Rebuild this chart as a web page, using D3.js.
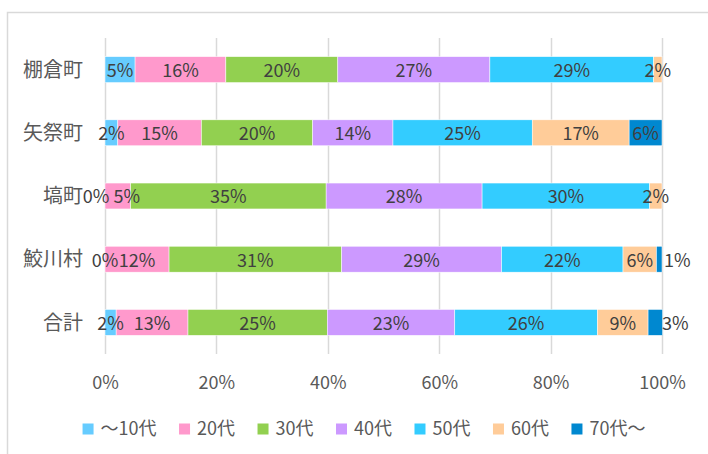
<!DOCTYPE html>
<html>
<head>
<meta charset="utf-8">
<script src="https://cdnjs.cloudflare.com/ajax/libs/d3/7.8.5/d3.min.js"></script>
<style>
  body { margin: 0; background: #fff; }
  #chart { width: 708px; height: 454px; }
</style>
</head>
<body>
<div id="chart"></div>
<script>
//Stacked 100% bar chart d3 v7

var categories = ["棚倉町", "矢祭町", "塙町", "鮫川村", "合計"];
var seriesNames = ["～10代", "20代", "30代", "40代", "50代", "60代", "70代～"];
var palette = ["#66ccff", "#ff99cc", "#92d050", "#cc99ff", "#33ccff", "#ffcc99", "#0088d0"];
var tickLabels = [0, 0.2, 0.4, 0.6, 0.8, 1];

//shares in % per age group, one array per series (null = no value)
var age10 = [5.4, 2.3, 0, 0, 2.0];
var age20 = [16.3, 15.0, 4.6, 11.5, 12.9];
var age30 = [20.1, 20.0, 35.1, 31.0, 25.0];
var age40 = [27.3, 14.4, 28.0, 28.7, 22.9];
var age50 = [29.4, 25.0, 30.1, 21.8, 25.6];
var age60 = [1.5, 17.4, 2.2, 6.0, 9.1];
var age70 = [null, 5.9, null, 1.0, 2.6];

var seriesValues = [age10, age20, age30, age40, age50, age60, age70];

var width = 708;
var height = 454;
var margin = {top: 38, right: 46, bottom: 100, left: 105};
var widthG = width - margin.left - margin.right;
var heightG = height - margin.top - margin.bottom;

var font = "'Noto Sans CJK JP', 'Noto Sans', sans-serif";

//label nudges for labels that were moved by hand in the original
var labelShift = {
  "塙町|～10代": -9,
  "塙町|20代": 9,
  "鮫川村|70代～": 18,
  "合計|70代～": 20
};

var svg = d3.select("#chart").append("svg")
  .attr("width", width)
  .attr("height", height)
  .style("font-family", font);

//chart border (only the top and left edges fall inside the picture)
svg.append("rect")
  .attr("x", 7.5)
  .attr("y", 12.5)
  .attr("width", width + 20)
  .attr("height", height + 20)
  .attr("fill", "none")
  .attr("stroke", "#d9d9d9")
  .attr("stroke-width", 1.5);

var g = svg.append("g")
  .attr("transform", "translate(" + margin.left + "," + margin.top + ")");

//scales
var x = d3.scaleLinear()
  .domain([0, 1])
  .range([0, widthG]);

var y = d3.scaleBand()
  .domain(categories)
  .range([0, heightG])
  .paddingInner(0.59)
  .paddingOuter(0.295);

//gridlines
g.append("g")
  .attr("class", "grid")
  .selectAll("line")
  .data(tickLabels)
  .enter()
  .append("line")
  .attr("x1", function(d) { return Math.round(x(d)) + 0.5; })
  .attr("x2", function(d) { return Math.round(x(d)) + 0.5; })
  .attr("y1", 0)
  .attr("y2", heightG)
  .attr("stroke", "#d9d9d9")
  .attr("stroke-width", 1.5);

//x axis labels
var xAxis = d3.axisBottom(x)
  .tickValues(tickLabels)
  .tickFormat(d3.format(".0%"))
  .tickSize(0)
  .tickPadding(0);

var gx = g.append("g")
  .attr("class", "x axis")
  .attr("transform", "translate(0," + (heightG + 29) + ")")
  .call(xAxis);
gx.select(".domain").remove();
gx.selectAll("text")
  .attr("dy", "0.35em")
  .style("font-family", font)
  .style("font-size", "18px")
  .style("fill", "#595959");

//y axis labels
var yAxis = d3.axisLeft(y)
  .tickSize(0)
  .tickPadding(22);

var gy = g.append("g")
  .attr("class", "y axis")
  .call(yAxis);
gy.select(".domain").remove();
gy.selectAll("text")
  .attr("dy", "0.36em")
  .style("font-family", font)
  .style("font-size", "20px")
  .style("fill", "#595959");

//stack the series
var rows = categories.map(function(c, i) {
  var row = {category: c};
  seriesNames.forEach(function(s, j) {
    row[s] = seriesValues[j][i];
  });
  return row;
});

var stack = d3.stack()
  .keys(seriesNames)
  .value(function(d, key) { return (d[key] || 0) / 100; });

var stacked = stack(rows);

var layers = g.selectAll(".layer")
  .data(stacked)
  .enter()
  .append("g")
  .attr("class", "layer")
  .attr("fill", function(d, i) { return palette[i]; });

layers.selectAll("rect")
  .data(function(d) { return d; })
  .enter()
  .append("rect")
  .attr("x", function(d) { return x(d[0]); })
  .attr("y", function(d) { return y(d.data.category); })
  .attr("width", function(d) { return x(d[1]) - x(d[0]); })
  .attr("height", y.bandwidth())
  .attr("stroke", "#fff")
  .attr("stroke-width", 0.5);

//value labels in the middle of each segment, drawn above all bars
var labelData = [];
stacked.forEach(function(layer) {
  layer.forEach(function(p) {
    if (p.data[layer.key] !== null) labelData.push({p: p, key: layer.key});
  });
});

g.append("g")
  .attr("class", "labels")
  .selectAll("text")
  .data(labelData)
  .enter()
  .append("text")
  .attr("x", function(d) {
    var shift = labelShift[d.p.data.category + "|" + d.key] || 0;
    return x((d.p[0] + d.p[1]) / 2) + shift;
  })
  .attr("y", function(d) { return y(d.p.data.category) + y.bandwidth() / 2 + 1; })
  .attr("dy", "0.35em")
  .attr("text-anchor", "middle")
  .style("font-size", "18px")
  .style("fill", "#404040")
  .text(function(d) { return Math.round(d.p.data[d.key]) + "%"; });

//legend
var legend = svg.append("g")
  .attr("class", "legend")
  .attr("transform", "translate(0,429)");

var items = legend.selectAll(".item")
  .data(seriesNames)
  .enter()
  .append("g")
  .attr("class", "item");

items.append("rect")
  .attr("x", 0)
  .attr("y", -5.5)
  .attr("width", 11)
  .attr("height", 11)
  .attr("fill", function(d, i) { return palette[i]; });

items.append("text")
  .attr("x", 18)
  .attr("dy", "0.35em")
  .style("font-size", "18px")
  .style("fill", "#595959")
  .text(function(d) { return d; });

//place the items one after another, centred round the original legend centre
var gap = 22.5;
var widths = [];
items.each(function() {
  widths.push(18 + d3.select(this).select("text").node().getComputedTextLength());
});
var total = d3.sum(widths) + gap * (widths.length - 1);
var pos = 364 - total / 2;
items.attr("transform", function(d, i) {
  var t = "translate(" + pos + ",0)";
  pos += widths[i] + gap;
  return t;
});
</script>
</body>
</html>
